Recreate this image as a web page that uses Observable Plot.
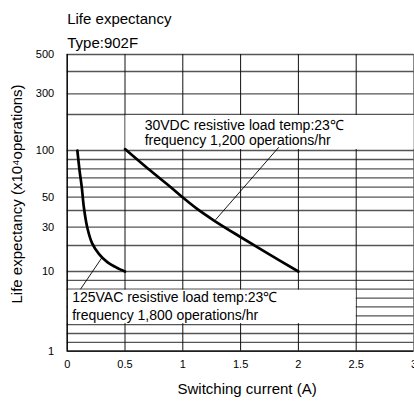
<!DOCTYPE html>
<html><head><meta charset="utf-8">
<script src="https://cdn.jsdelivr.net/npm/d3@7"></script>
<script src="https://cdn.jsdelivr.net/npm/@observablehq/plot@0.6"></script>
<style>body{margin:0;background:#fff;} svg{display:block;}</style>
</head><body><div id="chart"></div>
<script>
// Grid values of the (hand-drawn, non-uniform) life axis
const gridLife = [1,2,3,4,5,6,7,8,9,10,20,30,40,50,60,70,80,90,100,200,300,400,500];
const gridCurrent = [0,0.5,1,1.5,2,2.5,3];
const lifeTicks = [1,10,30,50,100,300,500];
const currentTicks = [0,0.5,1,1.5,2,2.5,3];

// 125VAC resistive load curve
const acCurrent = [0.088,0.107,0.126,0.144,0.173,0.217,0.274,0.347,0.419,0.5];
const acLife    = [100,78,60,42.5,30,21,16.8,13.6,11.7,10];
// 30VDC resistive load curve
const dcCurrent = [0.5,0.7,0.896,0.997,1.127,1.27,1.503,1.763,2.0];
const dcLife    = [104,80,60,50,41,34,24.5,16.2,10];

const dcLabel = ["30VDC resistive load temp:23℃", "frequency 1,200 operations/hr"];
const dcLabelCurrent = [0.67, 0.67];
const dcLabelLife = [170, 129];
const acLabel = ["125VAC resistive load temp:23℃", "frequency 1,800 operations/hr"];
const acLabelCurrent = [0.043, 0.043];
const acLabelLife = [7.03, 5.03];

// Leader lines
const leaders = [
  {x1: 1.83, y1: 109, x2: 1.283, y2: 34.4},
  {x1: 0.303, y1: 15.5, x2: 0.115, y2: 8}
];
// label boxes (blank areas in the grid)
const boxes = [
  {x1: 0.5, x2: 3, y1: 100, y2: 200},
  {x1: 0, x2: 2.5, y1: 4, y2: 8}
];

const ac = acCurrent.map((x, i) => ({x, y: acLife[i]}));
const dc = dcCurrent.map((x, i) => ({x, y: dcLife[i]}));
const dcL = dcLabel.map((t, i) => ({t, x: dcLabelCurrent[i], y: dcLabelLife[i]}));
const acL = acLabel.map((t, i) => ({t, x: acLabelCurrent[i], y: acLabelLife[i]}));

const font = "'Liberation Sans', Arial, Helvetica, sans-serif";

const chart = Plot.plot({
  width: 414,
  height: 403,
  marginLeft: 66.7,
  marginRight: 0.5,
  marginTop: 54,
  marginBottom: 52.3,
  style: {fontFamily: font, fontSize: "11px", background: "#fff", color: "#000", overflow: "visible"},
  x: {domain: [0, 3]},
  y: {
    type: "linear",
    domain: [1,10,20,30,40,50,60,70,80,90,100,200,300,400,500],
    range: [350.7,271,245,226.7,210,196.7,186.7,177.3,168.3,159,150,114,93.3,71,54]
  },
  marks: [
    Plot.ruleY(gridLife, {stroke: "#555", strokeWidth: 1.3}),
    Plot.ruleX(gridCurrent, {y1: 1, y2: 500, stroke: "#111", strokeWidth: 1}),
    Plot.rect(boxes, {x1: "x1", x2: "x2", y1: "y1", y2: "y2", fill: "#fff", insetTop: 1, insetBottom: 1, insetLeft: 1}),
    Plot.ruleY([1], {stroke: "#000", strokeWidth: 1.2}),
    Plot.ruleX([0], {y1: 1, y2: 500, stroke: "#000", strokeWidth: 1.2}),
    Plot.line(ac, {x: "x", y: "y", stroke: "#000", strokeWidth: 2.7, curve: "catmull-rom"}),
    Plot.line(dc, {x: "x", y: "y", stroke: "#000", strokeWidth: 2.7, curve: "catmull-rom"}),
    Plot.link(leaders, {x1: "x1", y1: "y1", x2: "x2", y2: "y2", stroke: "#000", strokeWidth: 0.9}),
    Plot.text(dcL, {x: "x", y: "y", text: "t", textAnchor: "start", fontSize: 14, fill: "#000"}),
    Plot.text(acL, {x: "x", y: "y", text: "t", textAnchor: "start", fontSize: 14, fill: "#000"}),
    Plot.axisY({ticks: lifeTicks, tickSize: 0, tickPadding: 13, label: null, tickFormat: d => `${d}`, fontSize: 11}),
    Plot.axisX({ticks: currentTicks, tickSize: 0, tickPadding: 9, label: null, tickFormat: d => `${d}`, fontSize: 11}),
    Plot.text(["Life expectancy"], {frameAnchor: "top-left", textAnchor: "start", dy: -40.7, fontSize: 15}),
    Plot.text(["Type:902F"], {frameAnchor: "top-left", textAnchor: "start", dy: -17.3, fontSize: 15}),
    Plot.text(["Switching current (A)"], {frameAnchor: "bottom", dy: 42.6, dx: 6.5, fontSize: 15}),
    Plot.text(["Life expectancy (x10⁴operations)"], {frameAnchor: "left", textAnchor: "middle", rotate: -90, dx: -50.2, dy: -8.9, fontSize: 15})
  ]
});
document.getElementById("chart").append(chart);
</script>
</body></html>
